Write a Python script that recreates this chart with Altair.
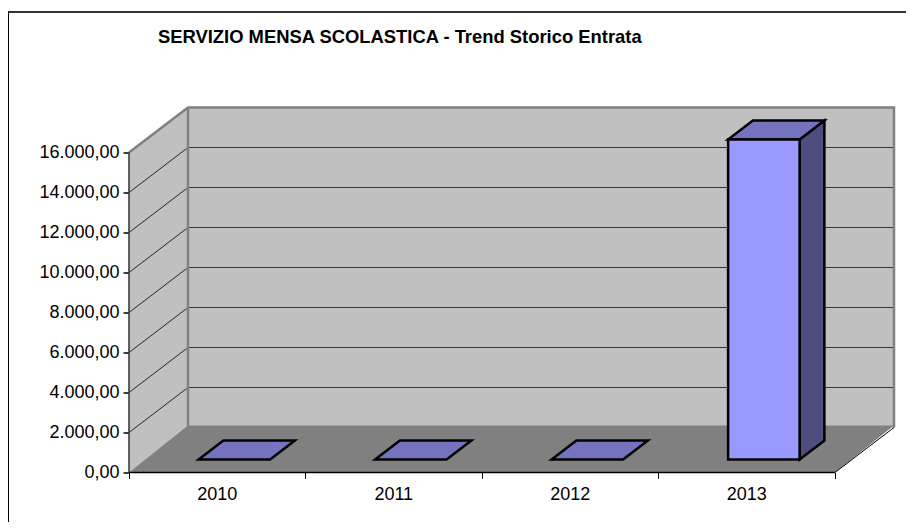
import altair as alt
import pandas as pd

categories = ["2010", "2011", "2012", "2013"]
values = [0, 0, 0, 16000]
grid_values = [2000, 4000, 6000, 8000, 10000, 12000, 14000]
tick_values = [0, 2000, 4000, 6000, 8000, 10000, 12000, 14000, 16000]
TITLE = "SERVIZIO MENSA SCOLASTICA - Trend Storico Entrata"

DX, DY = 0.3343, 2250      # depth of the 3-D box, in axis units
FLOOR_LIP = 100            # the floor reaches slightly above the foot of the back wall
GAP = 0.2975               # gap either side of a bar, share of a slot
F1, F2 = 0.29, 0.71        # depth span of the bars
N = len(categories)
YMAX = max(tick_values)

W, H = 765, 365
PAD_L, PAD_T = 121, 99.5
TOTAL_W, TOTAL_H = 898, 514
xs = alt.Scale(domain=[0, N + DX], nice=False, zero=False)
ys = alt.Scale(domain=[0, YMAX + DY], nice=False, zero=False)
LABEL_EXPR = ("replace(replace(replace(format(datum.value,',.2f'),',','#'),'.',','),'#','.')")
x_axis = alt.Axis(values=list(range(N + 1)), labels=False, title=None, domain=False, grid=False,
                  tickColor="#000000", tickSize=6, tickWidth=1, orient="bottom")
y_axis = alt.Axis(values=tick_values, title=None, domain=False, grid=False, labelExpr=LABEL_EXPR,
                  labelFont="Liberation Sans", labelFontSize=18, labelColor="#000000",
                  labelPadding=4, tickColor="#000000", tickSize=6, tickWidth=1.5, orient="left")
X = lambda f="x": alt.X(f"{f}:Q", scale=xs, axis=x_axis)
Y = lambda f="y": alt.Y(f"{f}:Q", scale=ys, axis=y_axis)

FLOOR = "#808080"; WALL = "#C0C0C0"; EDGE = "#808080"
FRONT = "#9999FF"; TOP = "#7373BF"; SIDE = "#4D4D80"


def line(points, color, width):
    df = pd.DataFrame(points, columns=["x", "y"]).assign(o=range(len(points)))
    return alt.Chart(df).mark_line(color=color, strokeWidth=width, clip=False).encode(
        x=X(), y=Y(), order="o:Q")


def hpara(y0, y1, x0, x1, shift, **mark):
    """parallelogram with horizontal top and bottom"""
    df = pd.DataFrame({"y": [y0, y1], "x": [x0, x0 + shift], "x2": [x1, x1 + shift]})
    return alt.Chart(df).mark_area(orient="horizontal", **mark).encode(
        y=Y(), x=X(), x2="x2:Q")


def vpara(x0, x1, y0, y1, rise, **mark):
    """parallelogram with vertical sides"""
    df = pd.DataFrame({"x": [x0, x1], "y": [y0, y0 + rise], "y2": [y1, y1 + rise]})
    return alt.Chart(df).mark_area(orient="vertical", **mark).encode(
        x=X(), y=Y(), y2="y2:Q")


layers = []

# frame of the whole picture: only its top and left sides show
frame = alt.Chart(pd.DataFrame({"a": [0]}))
layers.append(frame.mark_rule(color="#333333", strokeWidth=2).encode(
    x=alt.value(-PAD_L), x2=alt.value(TOTAL_W - PAD_L), y=alt.value(-PAD_T + 4)))
layers.append(frame.mark_rule(color="#000000", strokeWidth=1).encode(
    x=alt.value(-PAD_L + 0.5), y=alt.value(-PAD_T + 3), y2=alt.value(TOTAL_H - PAD_T)))

# title
layers.append(frame.mark_text(
    text=TITLE, font="Liberation Sans", fontSize=18.4, fontWeight="bold", color="#000000",
    align="left", baseline="middle").encode(x=alt.value(29), y=alt.value(-70.5)))

# walls and floor
layers.append(alt.Chart(pd.DataFrame({"x": [DX], "x2": [N + DX], "y": [DY], "y2": [YMAX + DY]}))
              .mark_rect(fill=WALL).encode(x=X(), x2="x2:Q", y=Y(), y2="y2:Q"))
layers.append(vpara(0, DX, 0, YMAX, DY, fill=WALL))

# gridlines
for v in grid_values:
    layers.append(line([(0, v), (DX, v + DY)], "#000000", 0.8))
    layers.append(line([(DX, v + DY), (N + DX, v + DY)], "#333333", 1))

# wall edges
layers.append(line([(0, YMAX), (DX, YMAX + DY), (N + DX, YMAX + DY), (N + DX, DY)], EDGE, 2.5))
layers.append(line([(DX, YMAX + DY), (DX, DY)], EDGE, 2.5))

# floor, drawn over the foot of the walls
layers.append(hpara(0, DY + FLOOR_LIP, 0, N, DX, fill=FLOOR))

# floor edges and axes
layers.append(line([(N, 0), (N + DX, DY)], "#000000", 1))
layers.append(line([(0, 0), (0, YMAX)], "#333333", 1.5))
layers.append(line([(0, 0), (N, 0)], "#000000", 1.5))

# bars
for i, v in enumerate(values):
    x0 = i + GAP + F1 * DX
    x1 = i + 1 - GAP + F1 * DX
    y0 = F1 * DY
    ddx = (F2 - F1) * DX
    ddy = (F2 - F1) * DY
    bar = dict(stroke="#000000", strokeWidth=2.5, strokeJoin="miter")
    if v > 0:
        layers.append(vpara(x1, x1 + ddx, y0, y0 + v, ddy, fill=SIDE, **bar))
    layers.append(hpara(y0 + v, y0 + v + ddy, x0, x1, ddx, fill=TOP, **bar))
    if v > 0:
        layers.append(alt.Chart(pd.DataFrame({"x": [x0], "x2": [x1], "y": [y0], "y2": [y0 + v]}))
                      .mark_rect(fill=FRONT, **bar).encode(x=X(), x2="x2:Q", y=Y(), y2="y2:Q"))

cat_df = pd.DataFrame({"label": categories, "x": [i + 0.5 for i in range(N)], "y": [0] * N})
layers.append(alt.Chart(cat_df).mark_text(
    font="Liberation Sans", fontSize=18, color="#000000", baseline="middle", dy=22).encode(
    x=X(), y=Y(), text="label:N"))

chart = alt.layer(*layers).properties(
    width=W, height=H,
    padding={"left": PAD_L, "top": PAD_T, "right": TOTAL_W - PAD_L - W, "bottom": TOTAL_H - PAD_T - H},
    autosize=alt.AutoSizeParams(type="none"),
).configure_view(stroke=None)

chart.save("out.html", embed_options={"renderer": "svg", "actions": False})
